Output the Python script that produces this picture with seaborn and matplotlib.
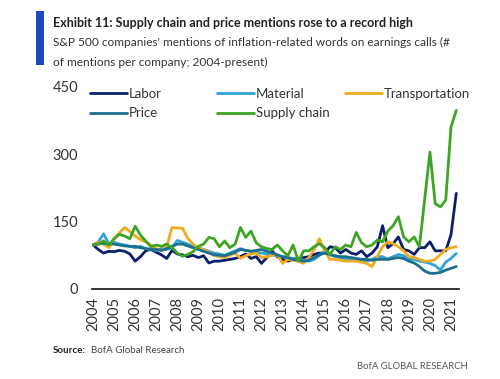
# Supply chain and price mentions on S&P 500 earnings calls
# BofA exhibit 11 recreation

import numpy as np
import pandas as pd
import seaborn as sns
import matplotlib.pyplot as plt
from matplotlib.patches import Rectangle


# Data (quarterly, 2004 Q1 - 2021 Q2) ..........................................................

years = list(range(2004, 2022))

labor = [98, 88, 80, 84,  83, 86, 84, 78,  62, 72, 85, 88,  82, 76, 68, 86,
         78, 76, 72, 75,  70, 74, 58, 62,  62, 64, 66, 68,  72, 78, 68, 72,
         57, 70, 85, 72,  66, 62, 66, 68,  70, 72, 77, 80,  80, 94, 92, 80,
         88, 80, 77, 85,  72, 80, 94, 141, 92, 101, 116, 88, 85, 77, 92, 92,
         105, 85, 85, 85, 121, 213]

material = [98, 105, 123, 100,  104, 100, 98, 95,  92, 95, 90, 88,  86, 90, 88, 92,
            108, 104, 100, 95,  92, 88, 84, 80,  78, 75, 80, 85,  90, 86, 84, 82,
            80, 78, 76, 74,  72, 70, 68, 66,  64, 62, 66, 75,  85, 76, 72, 70,
            66, 66, 64, 62,  62, 66, 72, 72,  66, 72, 77, 74,  66, 66, 62, 60,
            57, 52, 42, 60,  68, 79]

transportation = [98, 104, 100, 92,  112, 125, 137, 128,  118, 110, 105, 98,  90, 85, 94, 137,
                  136, 135, 113, 100,  92, 88, 82, 75,  72, 70, 75, 80,  68, 74, 78, 80,
                  70, 72, 75, 77,  57, 66, 64, 62,  57, 70, 88, 112,  85, 66, 66, 64,
                  62, 62, 62, 60,  57, 50, 72, 94,  105, 101, 94, 85,  72, 70, 66, 62,
                  62, 66, 77, 88,  92, 94]

price = [98, 100, 102, 100,  100, 98, 96, 95,  95, 92, 90, 88,  88, 86, 90, 95,
         100, 100, 96, 92,  88, 84, 80, 76,  75, 74, 78, 82,  88, 86, 84, 86,
         88, 84, 80, 76,  72, 70, 66, 64,  62, 64, 70, 76,  80, 77, 74, 72,
         72, 70, 68, 66,  66, 64, 66, 66,  66, 68, 70, 68,  62, 58, 50, 40,
         35, 35, 37, 42,  46, 50]

supply_chain = [98, 100, 107, 98,  112, 122, 118, 112,  140, 120, 107, 94,  98, 95, 100, 92,
                80, 73, 77, 83,  95, 100, 115, 112,  94, 107, 92, 100,  137, 115, 129, 103,
                94, 90, 88, 98,  85, 74, 98, 62,  85, 85, 94, 101,  92, 77, 94, 88,
                98, 94, 126, 103,  94, 98, 109, 105,  129, 141, 161, 116,  105, 116, 94, 200,
                305, 190, 183, 198,  361, 398]

series = {"Labor": labor, "Material": material, "Transportation": transportation,
          "Price": price, "Supply chain": supply_chain}
colors = {"Labor": "#0b1f6b", "Material": "#2ea3dc", "Transportation": "#f2aa1f",
          "Price": "#1c6f8e", "Supply chain": "#3da524"}

t = 2004 + np.arange(len(labor)) / 4
df = pd.concat([pd.DataFrame({"t": t, "value": v, "series": k}) for k, v in series.items()])


# Plot .........................................................................................

sns.set_style("white")
plt.rcParams['font.family'] = ['Liberation Sans Narrow', 'Lato', 'DejaVu Sans']

fig = plt.figure(figsize = (5, 3.79), dpi = 100)
ax = fig.add_axes([0.184, 0.2375, 0.734, 0.533])

sns.lineplot(data = df, x = "t", y = "value", hue = "series", palette = colors,
             hue_order = list(series.keys()), linewidth = 2.0, ax = ax)

ax.set_xlim(2003.95, 2021.38)
ax.set_ylim(0, 450)
ax.set_yticks([0, 150, 300, 450])
ax.set_xticks(years)
ax.set_xticklabels([str(y) for y in years], rotation = 90)
ax.tick_params(axis = 'both', length = 0, labelsize = 10.5, labelcolor = "#333333")
ax.tick_params(axis = 'y', pad = 10)
ax.tick_params(axis = 'x', pad = 6)
ax.set_xlabel("")
ax.set_ylabel("")
for side in ["top", "right", "left"]:
    ax.spines[side].set_visible(False)
ax.spines["bottom"].set_color("#111111")
ax.spines["bottom"].set_linewidth(1.2)

# Legend: three fixed columns (Labor/Price, Material/Supply chain, Transportation)
handles, labels = ax.get_legend_handles_labels()
lookup = dict(zip(labels, handles))
ax.get_legend().remove()
columns = [(["Labor", "Price"], -0.005), (["Material", "Supply chain"], 0.34),
           (["Transportation"], 0.689)]
legends = []
for names, xpos in columns:
    leg = ax.legend([lookup[k] for k in names], names, frameon = False,
                    loc = "upper left", bbox_to_anchor = (xpos, 0.995), fontsize = 9.5,
                    handlelength = 2.8, handletextpad = 0.15, labelspacing = 0.55,
                    borderpad = 0, borderaxespad = 0, labelcolor = "#333333")
    legends.append(leg)
# the last one stays as ax.legend_, the others are added as extra artists
for leg in legends[:-1]:
    ax.add_artist(leg)

# Header
fig.add_artist(Rectangle((0.072, 0.828), 0.016, 0.143, transform = fig.transFigure,
                         color = "#1f48c0", lw = 0))
fig.text(0.106, 0.939, "Exhibit 11: Supply chain and price mentions rose to a record high",
         fontsize = 9, fontweight = "bold", color = "#222222", va = "center")
fig.text(0.106, 0.889, "S&P 500 companies' mentions of inflation-related words on earnings calls (#",
         fontsize = 8.6, color = "#333333", va = "center")
fig.text(0.106, 0.836, "of mentions per company; 2004-present)",
         fontsize = 8.6, color = "#333333", va = "center")

# Footer
src = fig.text(0.106, 0.075, "Source:", fontsize = 7, fontweight = "bold", color = "#222222",
               va = "center")
fig.canvas.draw()
bb = src.get_window_extent().transformed(fig.transFigure.inverted())
fig.text(bb.x1 + 0.01, 0.075, "BofA Global Research", fontsize = 7, color = "#444444", va = "center")
fig.text(0.936, 0.032, "BofA GLOBAL RESEARCH", fontsize = 6.8, color = "#555555",
         va = "center", ha = "right")

plt.savefig("out.png", dpi = 100)
